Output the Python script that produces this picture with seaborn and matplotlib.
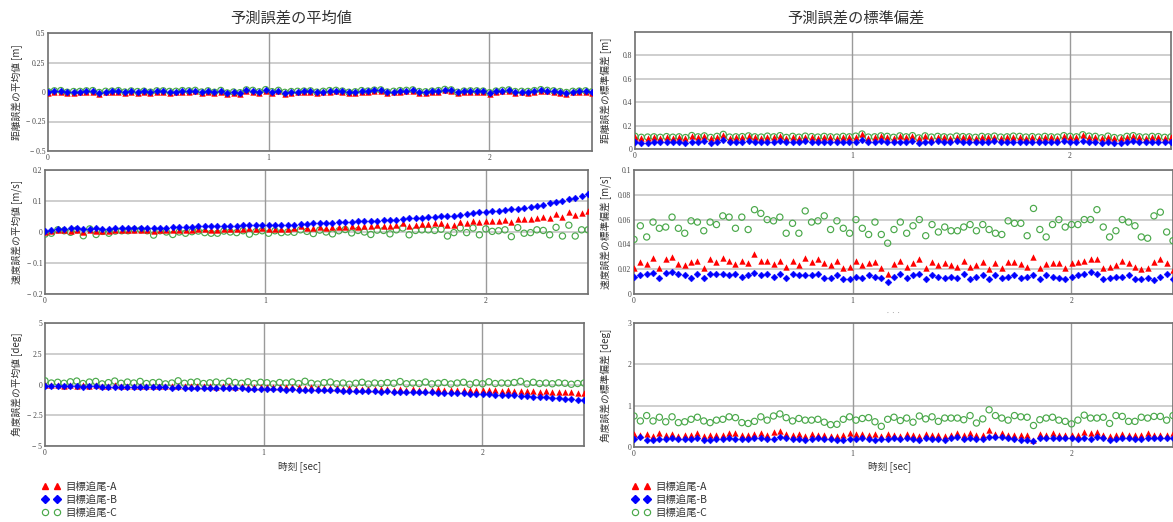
import numpy as np
import matplotlib
matplotlib.use("Agg")
import matplotlib.pyplot as plt
from matplotlib.lines import Line2D
import seaborn as sns

# ---------------- data ----------------
DT = 0.029          # sampling interval [sec]
N_SAMPLES = 86
TIME = np.arange(N_SAMPLES) * DT

SERIES = ["目標追尾-A", "目標追尾-B", "目標追尾-C"]

# mean of range error [m]
dist_mean_a = [
    -0.006, 0.002, 0.004, -0.012, -0.006, -0.004, 0.002, 0.004, -0.014, -0.004,
    -0.002, 0.004, -0.010, 0.000, -0.006, -0.002, -0.012, 0.002, 0.000, -0.006,
    -0.004, 0.004, 0.000, 0.006, -0.010, 0.002, -0.012, 0.004, -0.018, -0.010,
    -0.016, 0.010, 0.004, -0.008, 0.012, -0.008, 0.006, -0.014, -0.006, -0.004,
    -0.002, 0.000, -0.012, -0.004, 0.004, 0.006, -0.002, -0.012, -0.008, 0.004,
    -0.002, 0.008, 0.010, -0.010, -0.004, 0.002, 0.006, 0.010, -0.006, -0.008,
    -0.002, 0.004, 0.014, 0.010, -0.012, -0.002, 0.000, 0.002, -0.002, -0.016,
    -0.002, 0.006, 0.010, -0.006, -0.004, -0.006, 0.004, 0.012, 0.006, 0.000,
    -0.006, -0.014, -0.004, -0.002, 0.000, -0.008]
dist_mean_b = [
    0.000, 0.008, 0.010, -0.004, 0.002, 0.003, 0.008, 0.010, -0.006, 0.004,
    0.006, 0.010, -0.002, 0.007, 0.002, 0.005, -0.003, 0.008, 0.008, 0.003,
    0.004, 0.010, 0.008, 0.012, -0.002, 0.008, -0.004, 0.011, -0.010, -0.002,
    -0.008, 0.016, 0.012, 0.000, 0.018, 0.001, 0.012, -0.005, 0.002, 0.004,
    0.006, 0.008, -0.003, 0.004, 0.010, 0.012, 0.006, -0.004, 0.000, 0.010,
    0.006, 0.014, 0.016, -0.002, 0.004, 0.010, 0.012, 0.016, 0.002, 0.000,
    0.006, 0.010, 0.020, 0.016, -0.004, 0.006, 0.008, 0.008, 0.006, -0.008,
    0.006, 0.012, 0.016, 0.002, 0.004, 0.003, 0.010, 0.018, 0.012, 0.008,
    0.002, -0.006, 0.004, 0.006, 0.008, 0.000]
dist_mean_c = [
    0.003, 0.010, 0.012, -0.002, 0.004, 0.005, 0.010, 0.012, -0.004, 0.006,
    0.008, 0.012, 0.000, 0.009, 0.004, 0.007, -0.001, 0.010, 0.010, 0.005,
    0.006, 0.012, 0.010, 0.014, 0.000, 0.010, -0.002, 0.013, -0.008, 0.000,
    -0.006, 0.018, 0.014, 0.002, 0.020, 0.003, 0.014, -0.003, 0.004, 0.006,
    0.008, 0.010, -0.001, 0.006, 0.012, 0.014, 0.008, -0.002, 0.002, 0.012,
    0.008, 0.016, 0.018, 0.000, 0.006, 0.012, 0.014, 0.018, 0.004, 0.002,
    0.008, 0.012, 0.022, 0.018, -0.002, 0.008, 0.010, 0.010, 0.008, -0.006,
    0.008, 0.014, 0.018, 0.004, 0.006, 0.005, 0.012, 0.020, 0.014, 0.010,
    0.004, -0.004, 0.006, 0.008, 0.010, 0.002]

# mean of velocity error [m/s]
vel_mean_a = [
    0.000, 0.002, 0.007, 0.005, 0.004, 0.007, 0.001, 0.005, 0.004, 0.004,
    0.004, 0.005, 0.007, 0.005, 0.007, 0.005, 0.007, 0.003, 0.007, 0.007,
    0.005, 0.007, 0.008, 0.008, 0.009, 0.009, 0.007, 0.008, 0.009, 0.010,
    0.011, 0.010, 0.013, 0.010, 0.012, 0.011, 0.010, 0.011, 0.011, 0.012,
    0.018, 0.013, 0.014, 0.016, 0.014, 0.015, 0.017, 0.016, 0.018, 0.017,
    0.019, 0.018, 0.021, 0.020, 0.018, 0.022, 0.029, 0.020, 0.023, 0.026,
    0.026, 0.028, 0.029, 0.022, 0.023, 0.031, 0.030, 0.037, 0.031, 0.034,
    0.037, 0.037, 0.040, 0.033, 0.042, 0.042, 0.042, 0.046, 0.049, 0.044,
    0.058, 0.049, 0.064, 0.056, 0.062, 0.069]
vel_mean_b = [
    0.004, 0.007, 0.010, 0.011, 0.012, 0.012, 0.009, 0.010, 0.012, 0.010,
    0.010, 0.012, 0.012, 0.013, 0.013, 0.014, 0.014, 0.013, 0.014, 0.014,
    0.015, 0.015, 0.016, 0.016, 0.018, 0.018, 0.018, 0.019, 0.019, 0.019,
    0.020, 0.021, 0.021, 0.022, 0.022, 0.022, 0.022, 0.022, 0.023, 0.024,
    0.026, 0.027, 0.028, 0.029, 0.029, 0.030, 0.031, 0.032, 0.033, 0.034,
    0.035, 0.036, 0.037, 0.038, 0.038, 0.040, 0.043, 0.044, 0.045, 0.046,
    0.049, 0.050, 0.051, 0.052, 0.053, 0.056, 0.058, 0.061, 0.063, 0.065,
    0.067, 0.069, 0.071, 0.073, 0.075, 0.078, 0.081, 0.084, 0.088, 0.092,
    0.096, 0.101, 0.106, 0.111, 0.117, 0.124]
vel_mean_c = [
    -0.007, -0.004, 0.007, 0.004, -0.001, 0.007, -0.012, 0.010, -0.008, 0.002,
    -0.004, 0.003, 0.004, 0.004, 0.007, 0.007, 0.004, -0.010, 0.004, 0.000,
    -0.008, 0.000, -0.004, 0.001, 0.003, -0.002, -0.004, -0.004, 0.003, 0.000,
    -0.002, 0.004, -0.007, 0.001, 0.004, -0.004, 0.004, -0.002, 0.000, -0.001,
    0.007, 0.002, -0.005, 0.006, 0.000, -0.006, 0.004, 0.008, -0.003, 0.005,
    0.000, -0.008, 0.006, 0.005, -0.006, 0.007, 0.013, -0.009, 0.005, 0.007,
    0.007, 0.005, 0.009, -0.013, -0.002, 0.013, -0.002, 0.013, -0.009, 0.010,
    0.002, 0.004, 0.007, -0.015, 0.014, -0.004, -0.002, 0.007, 0.005, -0.009,
    0.015, -0.013, 0.022, -0.013, 0.007, 0.007]

# mean of angle error [deg]
ang_mean_a = [
    -0.05, -0.08, -0.06, -0.10, -0.07, -0.09, -0.06, -0.10, -0.08, -0.11,
    -0.09, -0.06, -0.10, -0.12, -0.09, -0.11, -0.13, -0.10, -0.12, -0.09,
    -0.13, -0.11, -0.14, -0.12, -0.16, -0.13, -0.15, -0.17, -0.14, -0.16,
    -0.18, -0.15, -0.19, -0.17, -0.20, -0.22, -0.19, -0.23, -0.21, -0.24,
    -0.22, -0.26, -0.24, -0.27, -0.29, -0.26, -0.30, -0.33, -0.30, -0.34,
    -0.36, -0.33, -0.38, -0.40, -0.37, -0.42, -0.38, -0.43, -0.40, -0.44,
    -0.41, -0.44, -0.40, -0.45, -0.42, -0.46, -0.43, -0.47, -0.44, -0.45,
    -0.48, -0.45, -0.50, -0.47, -0.52, -0.50, -0.55, -0.53, -0.57, -0.56,
    -0.60, -0.58, -0.63, -0.62, -0.67, -0.70]
ang_mean_b = [
    -0.10, -0.12, -0.15, -0.14, -0.13, -0.15, -0.17, -0.16, -0.13, -0.18,
    -0.17, -0.19, -0.18, -0.22, -0.20, -0.21, -0.20, -0.24, -0.22, -0.23,
    -0.25, -0.24, -0.27, -0.26, -0.25, -0.28, -0.27, -0.30, -0.29, -0.28,
    -0.31, -0.30, -0.33, -0.36, -0.38, -0.40, -0.38, -0.40, -0.41, -0.39,
    -0.43, -0.44, -0.42, -0.45, -0.46, -0.48, -0.47, -0.50, -0.49, -0.52,
    -0.51, -0.53, -0.55, -0.57, -0.56, -0.58, -0.57, -0.60, -0.61, -0.62,
    -0.64, -0.63, -0.66, -0.68, -0.69, -0.71, -0.72, -0.74, -0.75, -0.78,
    -0.79, -0.82, -0.84, -0.87, -0.89, -0.92, -0.95, -0.98, -1.00, -1.03,
    -1.07, -1.10, -1.14, -1.18, -1.22, -1.27]
ang_mean_c = [
    0.30, 0.12, 0.18, 0.10, 0.22, 0.28, 0.08, 0.20, 0.25, 0.05,
    0.15, 0.28, 0.10, 0.20, 0.12, 0.25, 0.08, 0.15, 0.18, 0.05,
    0.12, 0.30, 0.10, 0.18, 0.22, 0.08, 0.14, 0.20, 0.10, 0.26,
    0.16, 0.10, 0.22, 0.08, 0.18, 0.14, 0.05, 0.16, 0.12, 0.20,
    0.08, 0.26, 0.10, 0.04, 0.15, 0.20, 0.06, 0.12, 0.02, 0.10,
    0.18, 0.04, 0.12, 0.08, 0.15, 0.10, 0.24, 0.06, 0.12, 0.08,
    0.20, 0.05, 0.10, 0.16, 0.04, 0.12, 0.18, 0.02, 0.14, 0.06,
    0.22, 0.08, 0.12, 0.10, 0.16, 0.26, 0.05, 0.18, 0.08, 0.12,
    0.06, 0.14, 0.10, 0.02, 0.08, 0.12]

# standard deviation of range error [m]
dist_std_a = [
    0.105, 0.095, 0.098, 0.100, 0.096, 0.102, 0.097, 0.100, 0.094, 0.112,
    0.100, 0.108, 0.095, 0.104, 0.122, 0.098, 0.100, 0.102, 0.108, 0.100,
    0.098, 0.106, 0.100, 0.110, 0.095, 0.104, 0.097, 0.106, 0.102, 0.098,
    0.104, 0.100, 0.098, 0.104, 0.100, 0.106, 0.125, 0.098, 0.100, 0.108,
    0.104, 0.096, 0.108, 0.100, 0.110, 0.090, 0.108, 0.098, 0.104, 0.100,
    0.098, 0.106, 0.102, 0.100, 0.096, 0.104, 0.100, 0.106, 0.098, 0.100,
    0.106, 0.104, 0.098, 0.102, 0.098, 0.104, 0.100, 0.098, 0.110, 0.104,
    0.100, 0.118, 0.106, 0.104, 0.092, 0.106, 0.094, 0.090, 0.104, 0.110,
    0.100, 0.098, 0.104, 0.102, 0.096, 0.100]
dist_std_b = [
    0.060, 0.052, 0.055, 0.062, 0.058, 0.063, 0.057, 0.061, 0.055, 0.064,
    0.059, 0.066, 0.052, 0.060, 0.075, 0.056, 0.058, 0.062, 0.066, 0.060,
    0.057, 0.064, 0.060, 0.067, 0.058, 0.063, 0.056, 0.066, 0.060, 0.058,
    0.063, 0.061, 0.059, 0.062, 0.058, 0.064, 0.078, 0.060, 0.058, 0.066,
    0.062, 0.058, 0.064, 0.060, 0.067, 0.048, 0.062, 0.058, 0.065, 0.060,
    0.058, 0.066, 0.062, 0.060, 0.056, 0.063, 0.061, 0.065, 0.059, 0.060,
    0.064, 0.062, 0.058, 0.060, 0.057, 0.063, 0.061, 0.058, 0.066, 0.062,
    0.059, 0.072, 0.064, 0.062, 0.052, 0.063, 0.055, 0.050, 0.062, 0.066,
    0.060, 0.058, 0.062, 0.061, 0.056, 0.060]
dist_std_c = [
    0.109, 0.100, 0.102, 0.104, 0.100, 0.106, 0.101, 0.104, 0.098, 0.115,
    0.104, 0.112, 0.099, 0.108, 0.125, 0.102, 0.104, 0.106, 0.112, 0.104,
    0.102, 0.110, 0.104, 0.114, 0.099, 0.108, 0.101, 0.110, 0.106, 0.102,
    0.108, 0.104, 0.102, 0.108, 0.104, 0.110, 0.128, 0.102, 0.104, 0.112,
    0.108, 0.100, 0.112, 0.104, 0.114, 0.095, 0.112, 0.102, 0.108, 0.104,
    0.102, 0.110, 0.106, 0.104, 0.100, 0.108, 0.104, 0.110, 0.102, 0.104,
    0.110, 0.108, 0.102, 0.106, 0.102, 0.108, 0.104, 0.102, 0.114, 0.108,
    0.104, 0.122, 0.110, 0.108, 0.096, 0.110, 0.098, 0.095, 0.108, 0.114,
    0.104, 0.102, 0.108, 0.106, 0.100, 0.104]

# standard deviation of velocity error [m/s]
vel_std_a = [
    0.021, 0.026, 0.024, 0.029, 0.021, 0.028, 0.030, 0.024, 0.023, 0.026,
    0.027, 0.021, 0.028, 0.026, 0.029, 0.027, 0.024, 0.027, 0.025, 0.032,
    0.027, 0.027, 0.024, 0.027, 0.022, 0.027, 0.023, 0.029, 0.026, 0.028,
    0.025, 0.023, 0.027, 0.021, 0.022, 0.027, 0.023, 0.025, 0.026, 0.021,
    0.016, 0.024, 0.027, 0.022, 0.025, 0.028, 0.021, 0.026, 0.023, 0.025,
    0.023, 0.022, 0.027, 0.022, 0.023, 0.026, 0.020, 0.025, 0.021, 0.026,
    0.026, 0.024, 0.022, 0.030, 0.021, 0.024, 0.025, 0.025, 0.021, 0.025,
    0.026, 0.027, 0.028, 0.028, 0.021, 0.022, 0.023, 0.027, 0.025, 0.022,
    0.020, 0.021, 0.026, 0.028, 0.025, 0.019]
vel_std_b = [
    0.014, 0.015, 0.016, 0.017, 0.013, 0.017, 0.018, 0.016, 0.015, 0.013,
    0.016, 0.013, 0.016, 0.016, 0.016, 0.015, 0.016, 0.014, 0.015, 0.017,
    0.015, 0.016, 0.014, 0.016, 0.013, 0.016, 0.015, 0.015, 0.015, 0.016,
    0.013, 0.013, 0.015, 0.012, 0.012, 0.014, 0.013, 0.015, 0.014, 0.013,
    0.010, 0.014, 0.016, 0.013, 0.015, 0.016, 0.012, 0.015, 0.014, 0.013,
    0.014, 0.013, 0.016, 0.012, 0.014, 0.015, 0.012, 0.015, 0.013, 0.014,
    0.015, 0.013, 0.014, 0.015, 0.012, 0.015, 0.014, 0.013, 0.012, 0.014,
    0.015, 0.016, 0.018, 0.016, 0.012, 0.013, 0.014, 0.014, 0.015, 0.012,
    0.012, 0.013, 0.011, 0.014, 0.016, 0.012]
vel_std_c = [
    0.044, 0.055, 0.046, 0.058, 0.053, 0.054, 0.062, 0.053, 0.049, 0.059,
    0.058, 0.051, 0.058, 0.056, 0.063, 0.062, 0.053, 0.062, 0.052, 0.068,
    0.065, 0.060, 0.059, 0.062, 0.049, 0.057, 0.049, 0.067, 0.058, 0.059,
    0.063, 0.052, 0.059, 0.053, 0.049, 0.060, 0.053, 0.048, 0.058, 0.048,
    0.041, 0.052, 0.058, 0.049, 0.055, 0.060, 0.047, 0.056, 0.050, 0.054,
    0.051, 0.051, 0.054, 0.056, 0.051, 0.056, 0.052, 0.049, 0.048, 0.059,
    0.057, 0.057, 0.047, 0.069, 0.052, 0.046, 0.056, 0.060, 0.054, 0.056,
    0.056, 0.060, 0.060, 0.068, 0.054, 0.046, 0.051, 0.060, 0.058, 0.055,
    0.046, 0.045, 0.063, 0.066, 0.050, 0.043]

# standard deviation of angle error [deg]
ang_std_a = [
    0.31, 0.28, 0.31, 0.26, 0.34, 0.28, 0.31, 0.26, 0.28, 0.29,
    0.33, 0.26, 0.28, 0.29, 0.29, 0.34, 0.33, 0.28, 0.29, 0.31,
    0.33, 0.28, 0.36, 0.39, 0.31, 0.28, 0.31, 0.26, 0.31, 0.29,
    0.28, 0.26, 0.26, 0.28, 0.33, 0.31, 0.31, 0.29, 0.31, 0.26,
    0.31, 0.30, 0.27, 0.32, 0.29, 0.26, 0.31, 0.28, 0.30, 0.27,
    0.28, 0.33, 0.28, 0.33, 0.30, 0.28, 0.41, 0.32, 0.33, 0.28,
    0.30, 0.30, 0.28, 0.18, 0.32, 0.28, 0.34, 0.30, 0.28, 0.28,
    0.28, 0.36, 0.34, 0.36, 0.28, 0.26, 0.30, 0.32, 0.30, 0.30,
    0.30, 0.33, 0.30, 0.30, 0.28, 0.33]
ang_std_b = [
    0.20, 0.23, 0.18, 0.16, 0.20, 0.20, 0.21, 0.20, 0.19, 0.20,
    0.21, 0.18, 0.16, 0.20, 0.19, 0.21, 0.20, 0.19, 0.20, 0.21,
    0.21, 0.20, 0.19, 0.23, 0.21, 0.20, 0.19, 0.18, 0.20, 0.21,
    0.20, 0.19, 0.16, 0.18, 0.20, 0.19, 0.21, 0.20, 0.18, 0.20,
    0.20, 0.21, 0.19, 0.22, 0.20, 0.18, 0.21, 0.19, 0.20, 0.18,
    0.22, 0.25, 0.20, 0.22, 0.20, 0.20, 0.23, 0.23, 0.25, 0.22,
    0.20, 0.18, 0.18, 0.14, 0.21, 0.22, 0.22, 0.22, 0.22, 0.22,
    0.20, 0.22, 0.20, 0.25, 0.22, 0.18, 0.20, 0.22, 0.22, 0.20,
    0.20, 0.22, 0.22, 0.22, 0.22, 0.22]
ang_std_c = [
    0.75, 0.63, 0.76, 0.63, 0.72, 0.61, 0.73, 0.59, 0.61, 0.67,
    0.72, 0.63, 0.59, 0.65, 0.67, 0.73, 0.71, 0.59, 0.57, 0.62,
    0.73, 0.65, 0.75, 0.80, 0.71, 0.63, 0.69, 0.65, 0.65, 0.67,
    0.60, 0.54, 0.55, 0.67, 0.73, 0.65, 0.69, 0.71, 0.61, 0.50,
    0.67, 0.72, 0.64, 0.70, 0.60, 0.75, 0.68, 0.73, 0.62, 0.70,
    0.70, 0.70, 0.66, 0.76, 0.58, 0.68, 0.90, 0.76, 0.70, 0.65,
    0.76, 0.73, 0.72, 0.52, 0.66, 0.70, 0.72, 0.65, 0.62, 0.56,
    0.65, 0.77, 0.70, 0.70, 0.72, 0.57, 0.76, 0.74, 0.62, 0.62,
    0.72, 0.70, 0.74, 0.74, 0.65, 0.76]

# axis ranges / tick labels
X_TICKS = [0, 1, 2]
LEFT_YLABELS = ["距離誤差の平均値 [m]", "速度誤差の平均値 [m/s]", "角度誤差の平均値 [deg]"]
RIGHT_YLABELS = ["距離誤差の標準偏差 [m]", "速度誤差の標準偏差 [m/s]", "角度誤差の標準偏差 [deg]"]
LEFT_TICKS = [
    ([-0.5, -0.25, 0, 0.25, 0.5], ["\u2212 0.5", "\u2212 0.25", "0", "0.25", "0.5"]),
    ([-0.2, -0.1, 0, 0.1, 0.2], ["\u2212 0.2", "\u2212 0.1", "0", "0.1", "0.2"]),
    ([-5, -2.5, 0, 2.5, 5], ["\u2212 5", "\u2212 2.5", "0", "2.5", "5"]),
]
RIGHT_TICKS = [
    ([0, 0.2, 0.4, 0.6, 0.8], ["0", "0.2", "0.4", "0.6", "0.8"]),
    ([0, 0.02, 0.04, 0.06, 0.08, 0.1], ["0", "0.02", "0.04", "0.06", "0.08", "0.1"]),
    ([0, 1, 2, 3], ["0", "1", "2", "3"]),
]
LEFT_YLIM = [(-0.5, 0.5), (-0.2, 0.2), (-5, 5)]
RIGHT_YLIM = [(0, 1.0), (0, 0.1), (0, 3)]

# ---------------- style ----------------
sns.set_style("white")
plt.rcParams["font.family"] = ["Noto Sans CJK JP", "DejaVu Sans"]

RED, BLUE, GREEN = "#ff0000", "#0000ff", "#4aa84a"
W, H = 1173, 522
fig = plt.figure(figsize=(W / 100, H / 100), dpi=100)


def px_axes(left, top, right, bottom):
    return fig.add_axes([left / W, 1 - bottom / H, (right - left) / W, (bottom - top) / H])


def draw_panel(ax, a, b, c, ylim, ticks, ylabel, ylabel_px, left_px, width_px):
    n = len(a)
    t = TIME[:n]
    sns.scatterplot(x=t, y=c, ax=ax, marker="o", s=20, color=GREEN,
                    facecolor="none", edgecolor=GREEN, linewidth=0.85, legend=False, zorder=3)
    sns.scatterplot(x=t, y=a, ax=ax, marker="^", s=21, color=RED,
                    edgecolor=RED, linewidth=0, legend=False, zorder=4)
    sns.scatterplot(x=t, y=b, ax=ax, marker="D", s=12, color=BLUE,
                    edgecolor=BLUE, linewidth=0.3, legend=False, zorder=5)
    ax.set_xlim(0, TIME[-1])
    ax.set_ylim(*ylim)
    ax.set_xticks(X_TICKS)
    ax.set_xticklabels([str(v) for v in X_TICKS])
    ax.set_yticks(ticks[0])
    ax.set_yticklabels(ticks[1])
    ax.tick_params(length=0, pad=2, labelsize=5.5, colors="#444444")
    for lab in ax.get_xticklabels() + ax.get_yticklabels():
        lab.set_family("Liberation Serif")
    ax.set_xlabel("")
    ax.set_ylabel(ylabel, fontsize=7, color="#333333")
    ax.yaxis.set_label_coords((ylabel_px - left_px) / width_px, 0.5)
    # horizontal grid (light) and vertical grid at whole seconds (darker)
    for y in ticks[0]:
        ax.axhline(y, color="#c6c6c6", lw=1.2, zorder=1)
    for x in X_TICKS[1:]:
        ax.axvline(x, color="#9a9a9a", lw=1.0, zorder=1)
    for sp in ax.spines.values():
        sp.set_color("#707070")
        sp.set_linewidth(1.2)
        sp.set_visible(True)


left_boxes = [(48, 33, 592, 151), (45, 170, 588, 294), (45, 323, 584, 446)]
right_boxes = [(635, 32, 1171, 149), (634, 170, 1173, 294), (634, 323, 1173, 447)]

left_data = [(dist_mean_a, dist_mean_b, dist_mean_c),
             (vel_mean_a, vel_mean_b, vel_mean_c),
             (ang_mean_a, ang_mean_b, ang_mean_c)]
right_data = [(dist_std_a, dist_std_b, dist_std_c),
              (vel_std_a, vel_std_b, vel_std_c),
              (ang_std_a, ang_std_b, ang_std_c)]

for i in range(3):
    l, t_, r, b_ = left_boxes[i]
    ax = px_axes(l, t_, r, b_)
    draw_panel(ax, *left_data[i], LEFT_YLIM[i], LEFT_TICKS[i], LEFT_YLABELS[i], 23, l, r - l)
    l, t_, r, b_ = right_boxes[i]
    ax = px_axes(l, t_, r, b_)
    draw_panel(ax, *right_data[i], RIGHT_YLIM[i], RIGHT_TICKS[i], RIGHT_YLABELS[i], 612, l, r - l)

# column titles
fig.text(291 / W, 1 - 18 / H, "予測誤差の平均値", ha="center", va="center", fontsize=11, color="#333333")
fig.text(856 / W, 1 - 18 / H, "予測誤差の標準偏差", ha="center", va="center", fontsize=11, color="#333333")

# time axis captions
fig.text(300 / W, 1 - 467 / H, "時刻 [sec]", ha="center", va="center", fontsize=7, color="#333333")
fig.text(890 / W, 1 - 467 / H, "時刻 [sec]", ha="center", va="center", fontsize=7, color="#333333")
fig.text(893 / W, 1 - 313 / H, "· · ·", ha="center", va="center", fontsize=5, color="#888888")

# legends
handles = [
    Line2D([], [], ls="none", marker="^", ms=4.5, color=RED, mec=RED),
    Line2D([], [], ls="none", marker="D", ms=3.6, color=BLUE, mec=BLUE),
    Line2D([], [], ls="none", marker="o", ms=4.5, mfc="none", mec=GREEN, mew=0.85),
]
for x0 in (42, 632):
    fig.legend(handles, SERIES, loc="upper left", bbox_to_anchor=(x0 / W, 1 - 482 / H),
               frameon=False, numpoints=2, handlelength=1.7, handletextpad=0.5,
               labelspacing=0.25, borderaxespad=0, borderpad=0, fontsize=7.5,
               labelcolor="#333333")

fig.savefig("out.png", dpi=100)
